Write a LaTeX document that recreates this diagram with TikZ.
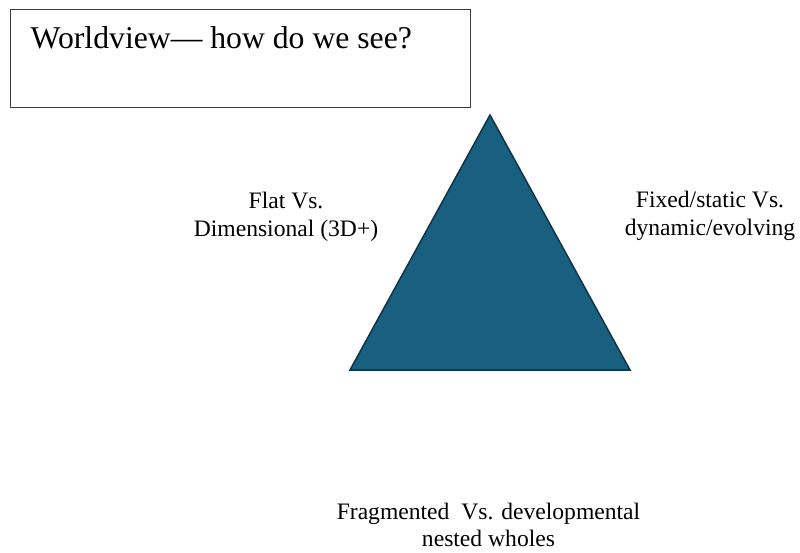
\documentclass[tikz,border=0pt]{standalone}
\usepackage{fontspec}
\setmainfont{Liberation Serif}
\definecolor{trifill}{RGB}{24,95,128}
\definecolor{triedge}{RGB}{14,52,72}
\definecolor{boxedge}{RGB}{60,60,60}
\begin{document}
\begin{tikzpicture}[x=1pt,y=-1pt,
  lbl/.style={align=center,font=\fontsize{23.6}{27.5}\selectfont,inner sep=0pt}]
\useasboundingbox (0,0) rectangle (800,553);
\node[draw=boxedge,line width=1pt,minimum width=460pt,minimum height=98pt,inner sep=0pt] (box) at (240.7,58.3) {};
\node[anchor=base west,font=\fontsize{31.7}{36}\selectfont,inner sep=0pt] (title) at (30.5,49) {Worldview— how do we see?};
\coordinate (a) at (490,115);
\coordinate (b) at (350,370);
\coordinate (c) at (630,370);
\draw[fill=trifill,draw=triedge,line width=1.5pt,line join=miter] (a) -- (b) -- (c) -- cycle;
\node[lbl] (left) at (286,217) {Flat Vs.\\Dimensional (3D+)};
\node[lbl] (right) at (710,216) {Fixed/static Vs.\\dynamic/evolving};
\node[lbl] (bottom) at (488.5,525) {Fragmented\ \ Vs. developmental\\nested wholes};
\end{tikzpicture}
\end{document}
